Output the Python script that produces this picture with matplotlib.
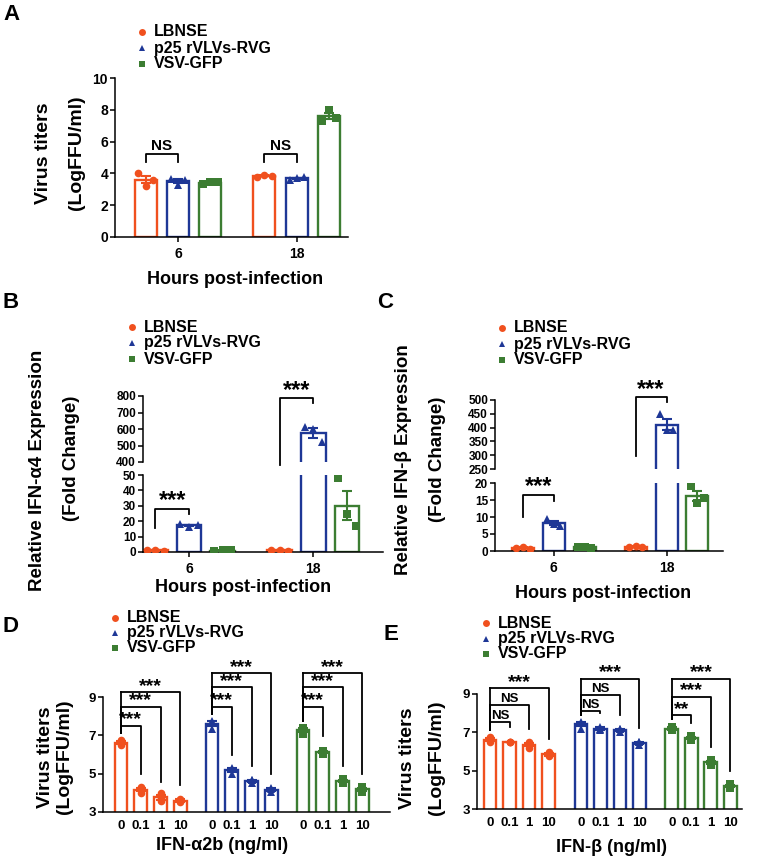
import matplotlib
matplotlib.use("Agg")
import matplotlib.pyplot as plt
import numpy as np

plt.rcParams['font.family'] = ['Liberation Sans', 'DejaVu Sans']
plt.rcParams['font.weight'] = 'bold'
plt.rcParams['axes.linewidth'] = 1.1

W, H = 777, 859

strains = ["LBNSE", "p25 rVLVs-RVG", "VSV-GFP"]
colors = ["#F0501E", "#1E3796", "#3C7D32"]
markers = ["o", "^", "s"]

hours = ["6", "18"]
doses = ["0", "0.1", "1", "10"]

# panel A: virus titers, points per strain per time point
a_lbnse = [[4.0, 3.2, 3.6], [3.8, 3.9, 3.85]]
a_p25 = [[3.65, 3.3, 3.6], [3.6, 3.7, 3.75]]
a_vsv = [[3.35, 3.45, 3.45], [7.3, 8.0, 7.5]]

# panel B: IFN-a4 fold change
b_lbnse = [[1.0, 1.1, 0.9], [1.0, 1.2, 0.9]]
b_p25 = [[18.0, 16.5, 17.5], [610, 600, 520]]
b_vsv = [[0.5, 1.0, 1.3], [48, 25, 17]]

# panel C: IFN-b fold change
c_lbnse = [[1.0, 1.2, 0.7], [1.3, 1.5, 1.1]]
c_p25 = [[9.5, 8.0, 7.3], [450, 390, 390]]
c_vsv = [[1.2, 1.3, 1.0], [19, 14, 15.5]]

# panel D: titers vs IFN-a2b dose
d_lbnse = [[6.5, 6.6, 6.75], [4.0, 4.2, 4.3], [4.0, 3.55, 3.75], [3.5, 3.7, 3.6]]
d_p25 = [[7.35, 7.7, 7.75], [5.0, 5.25, 5.3], [4.5, 4.65, 4.65], [4.05, 4.25, 4.2]]
d_vsv = [[7.05, 7.4, 7.35], [6.05, 6.2, 6.2], [4.5, 4.7, 4.6], [4.05, 4.3, 4.2]]
d_sig = [["***", "***", "***"], ["***", "***", "***"], ["***", "***", "***"]]
d_levels = [[7.5, 8.5, 9.25], [8.5, 9.5, 10.25], [8.5, 9.5, 10.25]]

# panel E: titers vs IFN-b dose
e_lbnse = [[6.75, 6.5, 6.6], [6.5, 6.5, 6.5], [6.5, 6.2, 6.35], [6.0, 5.75, 5.8]]
e_p25 = [[7.5, 7.2, 7.55], [7.2, 7.1, 7.3], [7.15, 7.0, 7.15], [6.5, 6.35, 6.5]]
e_vsv = [[7.3, 7.1, 7.2], [6.8, 6.6, 6.7], [5.55, 5.3, 5.5], [4.3, 4.1, 4.2]]
e_sig = [["NS", "NS", "***"], ["NS", "NS", "***"], ["**", "***", "***"]]
e_levels = [[7.55, 8.45, 9.3], [8.1, 8.95, 9.8], [7.9, 8.85, 9.8]]

fig = plt.figure(figsize=(W / 100, H / 100), dpi=100)


def add_ax(l, t, r, b):
    return fig.add_axes([l / W, 1 - b / H, (r - l) / W, (b - t) / H])


def ftext(x, y, s, **kw):
    fig.text(x / W, 1 - y / H, s, ha='center', va='center', **kw)


def style(ax, bottom=True):
    ax.spines['right'].set_visible(False)
    ax.spines['top'].set_visible(False)
    ax.spines['bottom'].set_visible(bottom)
    ax.patch.set_alpha(0)
    ax.tick_params(direction='out', length=3.5, width=1.1, pad=1.5)


def draw_bars(ax, x, pts, color, marker, width, spread, msize=5.5):
    pts = np.array(pts, dtype=float)
    m = pts.mean()
    sem = pts.std(ddof=1) / np.sqrt(len(pts))
    ax.bar(x, m, width=width, facecolor='white', edgecolor=color, linewidth=1.7, zorder=2)
    ax.errorbar(x, m, yerr=sem, color=color, capsize=3.5, elinewidth=1.5, capthick=1.5, zorder=3)
    offs = np.array([-spread, 0, spread])
    ax.plot(x + offs, pts, linestyle='none', marker=marker, color=color,
            markersize=msize, markeredgewidth=0, zorder=4)


def legend(x, y, fs=11.5, dy=16):
    ov = fig.add_axes([0, 0, 1, 1], zorder=10)
    ov.set_xlim(0, W)
    ov.set_ylim(H, 0)
    ov.axis('off')
    for i in range(3):
        ov.plot(x, y + i * dy, marker=markers[i], color=colors[i], markersize=5,
                markeredgewidth=0, linestyle='none')
        ov.text(x + 12, y + i * dy, strains[i], fontsize=fs, fontweight='bold',
                ha='left', va='center')


def bracket(ax, x1, x2, y, e1, e2, txt, fs, dy):
    ax.plot([x1, x1, x2, x2], [e1, y, y, e2], color='black', lw=1.3, clip_on=False, zorder=5)
    ax.annotate(txt, xy=((x1 + x2) / 2, y), xytext=(0, dy), textcoords='offset points',
                ha='center', va='baseline', fontsize=fs, fontweight='bold', annotation_clip=False)


# ---------------- panel A ----------------
ax = add_ax(115, 78, 348, 237)
style(ax)
grp = [a_lbnse, a_p25, a_vsv]
for g in range(2):
    for s in range(3):
        draw_bars(ax, g + (s - 1) * 0.273, grp[s][g], colors[s], markers[s], 0.185, 0.06)
ax.set_xlim(-0.53, 1.43)
ax.set_ylim(0, 10)
ax.set_yticks([0, 2, 4, 6, 8, 10])
ax.set_xticks([0, 1])
ax.set_xticklabels(hours)
ax.tick_params(labelsize=10)
ax.tick_params(axis='x', pad=4)
for g in range(2):
    bracket(ax, g - 0.273, g, 5.2, 4.7, 4.7, "NS", 11, 3)
legend(142, 32)
ftext(235, 280, "Hours post-infection", fontsize=13, fontweight='bold')
ftext(44, 153, "Virus titers", fontsize=14, fontweight='bold', rotation=90)
ftext(77, 153, "(LogFFU/ml)", fontsize=14, fontweight='bold', rotation=90)
ftext(11, 14, "A", fontsize=16, fontweight='bold')


# ---------------- broken panels B and C ----------------
def broken(l, r, t_top, b_top, t_bot, b_bot, data, lo_lim, hi_lim, lo_ticks, hi_ticks,
           off, width, spread, xl):
    axt = add_ax(l, t_top, r, b_top)
    axb = add_ax(l, t_bot, r, b_bot)
    style(axt, bottom=False)
    style(axb)
    for a in (axt, axb):
        for g in range(2):
            for s in range(3):
                draw_bars(a, g + (s - 1) * off, data[s][g], colors[s], markers[s], width, spread)
        a.set_xlim(*xl)
        a.tick_params(labelsize=8.5)
    axt.set_ylim(*hi_lim)
    axb.set_ylim(*lo_lim)
    axt.set_yticks(hi_ticks)
    axb.set_yticks(lo_ticks)
    axt.set_xticks([])
    axb.set_xticks([0, 1])
    axb.set_xticklabels(hours)
    axb.tick_params(axis='x', pad=4, labelsize=10)
    return axt, axb


bt, bb = broken(143, 383, 396, 462, 475, 552, [b_lbnse, b_p25, b_vsv], (0, 50), (400, 800),
                [0, 10, 20, 30, 40, 50], [400, 500, 600, 700, 800], 0.27, 0.2, 0.07,
                (-0.37, 1.56))
bracket(bb, -0.27, 0, 28, 15.5, 25, "***", 17, 1)
bracket(bt, 1 - 0.27, 1, 788, 380, 758, "***", 17, 1)
legend(132, 327)
ftext(243, 588, "Hours post-infection", fontsize=13, fontweight='bold')
ftext(38, 470, "Relative IFN-\u03b14 Expression", fontsize=13.5, fontweight='bold', rotation=90)
ftext(72, 458, "(Fold Change)", fontsize=13.5, fontweight='bold', rotation=90)
ftext(11, 303, "B", fontsize=16, fontweight='bold')

ct, cb = broken(495, 723, 400, 469, 483, 551, [c_lbnse, c_p25, c_vsv], (0, 20), (250, 500),
                [0, 5, 10, 15, 20], [250, 300, 350, 400, 450, 500], 0.274, 0.195, 0.06,
                (-0.52, 1.5))
bracket(cb, -0.274, 0, 16.5, 9.9, 14.8, "***", 17, 1)
bracket(ct, 1 - 0.274, 1, 511, 296, 493, "***", 17, 1)
legend(502, 328)
ftext(603, 593, "Hours post-infection", fontsize=13, fontweight='bold')
ftext(404, 460, "Relative IFN-\u03b2 Expression", fontsize=13.5, fontweight='bold', rotation=90)
ftext(438, 459, "(Fold Change)", fontsize=13.5, fontweight='bold', rotation=90)
ftext(385, 302, "C", fontsize=16, fontweight='bold')


# ---------------- dose panels D and E ----------------
def dose_panel(l, t, r, b, data, gap, xl, sig, levels, sig_fs):
    ax = add_ax(l, t, r, b)
    style(ax)
    ticks = []
    for s in range(3):
        base = s * gap
        for i in range(4):
            draw_bars(ax, base + i, data[s][i], colors[s], markers[s], 0.65, 0.0)
            ticks.append(base + i)
        m0 = np.mean(data[s][0])
        for k in range(3):
            mk = np.mean(data[s][k + 1])
            ax.plot([base, base], [m0 + 0.5, levels[s][k]], color='black', lw=1.3,
                    clip_on=False, zorder=5)
            ns = sig[s][k] == "NS"
            bracket(ax, base, base + k + 1, levels[s][k], levels[s][k], mk + 0.8,
                    sig[s][k], 9.5 if ns else sig_fs, 2 if ns else 1)
    ax.set_xticks(ticks)
    ax.set_xticklabels(doses * 3)
    ax.set_xlim(*xl)
    ax.set_ylim(3, 9)
    ax.set_yticks([3, 5, 7, 9])
    ax.tick_params(labelsize=9.5)
    ax.tick_params(axis='x', length=0, pad=6)
    return ax


dose_panel(103, 697, 390, 812, [d_lbnse, d_p25, d_vsv], 4.6, (-0.91, 13.6), d_sig, d_levels, 14)
legend(115, 618, dy=15)
ftext(222, 846, "IFN-\u03b12b (ng/ml)", fontsize=13, fontweight='bold')
ftext(45, 757, "Virus titers", fontsize=14, fontweight='bold', rotation=90)
ftext(65, 757, "(LogFFU/ml)", fontsize=14, fontweight='bold', rotation=90)
ftext(11, 627, "D", fontsize=16, fontweight='bold')

dose_panel(477, 694, 742, 809, [e_lbnse, e_p25, e_vsv], 4.65, (-0.67, 12.9), e_sig, e_levels, 14)
legend(486, 623, dy=15.5)
ftext(612, 847, "IFN-\u03b2 (ng/ml)", fontsize=13, fontweight='bold')
ftext(407, 758, "Virus titers", fontsize=14, fontweight='bold', rotation=90)
ftext(437, 758, "(LogFFU/ml)", fontsize=14, fontweight='bold', rotation=90)
ftext(391, 634, "E", fontsize=16, fontweight='bold')

fig.savefig("out.png", dpi=100)
